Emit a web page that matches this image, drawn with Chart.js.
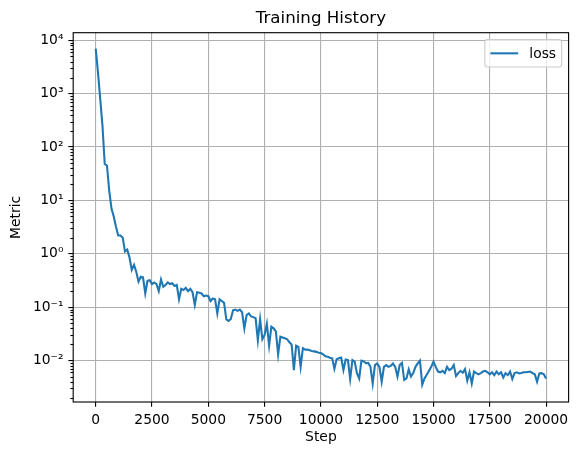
<!DOCTYPE html>
<html>
<head>
<meta charset="utf-8">
<script src="https://cdn.jsdelivr.net/npm/chart.js@4/dist/chart.umd.min.js"></script>
<style>
  html, body { margin: 0; padding: 0; background: #fff; }
  canvas { display: block; }
</style>
</head>
<body>
<canvas id="chart" width="578" height="455"></canvas>
<script>
// training steps (every 100)
const steps = [
  0, 100, 200, 300, 400, 500, 600, 700, 800, 900,
  1000, 1100, 1200, 1300, 1400, 1500, 1600, 1700, 1800, 1900,
  2000, 2100, 2200, 2300, 2400, 2500, 2600, 2700, 2800, 2900,
  3000, 3100, 3200, 3300, 3400, 3500, 3600, 3700, 3800, 3900,
  4000, 4100, 4200, 4300, 4400, 4500, 4600, 4700, 4800, 4900,
  5000, 5100, 5200, 5300, 5400, 5500, 5600, 5700, 5800, 5900,
  6000, 6100, 6200, 6300, 6400, 6500, 6600, 6700, 6800, 6900,
  7000, 7100, 7200, 7300, 7400, 7500, 7600, 7700, 7800, 7900,
  8000, 8100, 8200, 8300, 8400, 8500, 8600, 8700, 8800, 8900,
  9000, 9100, 9200, 9300, 9400, 9500, 9600, 9700, 9800, 9900,
  10000, 10100, 10200, 10300, 10400, 10500, 10600, 10700, 10800, 10900,
  11000, 11100, 11200, 11300, 11400, 11500, 11600, 11700, 11800, 11900,
  12000, 12100, 12200, 12300, 12400, 12500, 12600, 12700, 12800, 12900,
  13000, 13100, 13200, 13300, 13400, 13500, 13600, 13700, 13800, 13900,
  14000, 14100, 14200, 14300, 14400, 14500, 14600, 14700, 14800, 14900,
  15000, 15100, 15200, 15300, 15400, 15500, 15600, 15700, 15800, 15900,
  16000, 16100, 16200, 16300, 16400, 16500, 16600, 16700, 16800, 16900,
  17000, 17100, 17200, 17300, 17400, 17500, 17600, 17700, 17800, 17900,
  18000, 18100, 18200, 18300, 18400, 18500, 18600, 18700, 18800, 18900,
  19000, 19100, 19200, 19300, 19400, 19500, 19600, 19700, 19800, 19900,
  20000
];

// loss values
const loss = [
  7000, 2500, 800, 250, 48, 45, 15, 7, 5, 3.2,
  2.2, 2.2, 2.0, 1.1, 1.2, 0.85, 0.5, 0.62, 0.46, 0.3,
  0.37, 0.36, 0.18, 0.31, 0.32, 0.27, 0.29, 0.27, 0.2, 0.33,
  0.24, 0.26, 0.29, 0.27, 0.28, 0.25, 0.26, 0.14, 0.22, 0.21,
  0.23, 0.2, 0.22, 0.19, 0.11, 0.19, 0.185, 0.18, 0.16, 0.165,
  0.16, 0.13, 0.145, 0.14, 0.076, 0.14, 0.13, 0.12, 0.059, 0.055,
  0.06, 0.087, 0.09, 0.085, 0.09, 0.08, 0.04, 0.071, 0.076, 0.067,
  0.065, 0.062, 0.024, 0.059, 0.025, 0.03, 0.049, 0.019, 0.043, 0.04,
  0.035, 0.013, 0.028, 0.027, 0.026, 0.025, 0.022, 0.02, 0.0066, 0.019,
  0.018, 0.0076, 0.017, 0.016, 0.016, 0.0155, 0.015, 0.0148, 0.0145, 0.014,
  0.0138, 0.013, 0.012, 0.0118, 0.0113, 0.011, 0.007, 0.0105, 0.011, 0.0113,
  0.0066, 0.0104, 0.0102, 0.0045, 0.0102, 0.0095, 0.0058, 0.0046, 0.0099, 0.0096,
  0.0089, 0.009, 0.0076, 0.0037, 0.0082, 0.0088, 0.0076, 0.004, 0.0076, 0.0082,
  0.0076, 0.0079, 0.0088, 0.0076, 0.005, 0.0082, 0.009, 0.0043, 0.0046, 0.0068,
  0.005, 0.0058, 0.0076, 0.0088, 0.0099, 0.0035, 0.0046, 0.0054, 0.0064, 0.0076,
  0.0095, 0.0076, 0.0062, 0.006, 0.0064, 0.0058, 0.0076, 0.0066, 0.007, 0.0082,
  0.0051, 0.0058, 0.0064, 0.0059, 0.0069, 0.0042, 0.006, 0.0037, 0.0062, 0.0058,
  0.0055, 0.0058, 0.0062, 0.0064, 0.006, 0.0055, 0.006, 0.0053, 0.0062, 0.0055,
  0.006, 0.0048, 0.0058, 0.0053, 0.0062, 0.0045, 0.0058, 0.006, 0.0057, 0.0058,
  0.006, 0.006, 0.0061, 0.0062, 0.0058, 0.0055, 0.004, 0.0057, 0.0058, 0.0055,
  0.0046
];

const xTicks = [0, 2500, 5000, 7500, 10000, 12500, 15000, 17500, 20000];
const yDecades = [-3, -2, -1, 0, 1, 2, 3, 4];
const xRange = [-1000, 21000];
const yRange = [0.001667, 13880];

const FONT = "'DejaVu Sans', sans-serif";
const PT = 100 / 72;
const BLUE = '#1f77b4';

const sup = { '-': '\u207B', '0': '\u2070', '1': '\u00B9', '2': '\u00B2', '3': '\u00B3',
  '4': '\u2074', '5': '\u2075', '6': '\u2076', '7': '\u2077', '8': '\u2078', '9': '\u2079' };

function isDecade(v) {
  const l = Math.log10(v);
  return Math.abs(l - Math.round(l)) < 1e-9;
}

function yTickList() {
  const out = [];
  yDecades.forEach(e => {
    for (let k = 1; k <= 9; k++) {
      const v = k * Math.pow(10, e);
      if (v >= yRange[0] && v <= yRange[1]) out.push({ value: v, major: k === 1 });
    }
  });
  return out;
}

// frame, minor ticks and legend drawn like matplotlib
const mplExtras = {
  id: 'mplExtras',
  afterDatasetsDraw(chart) {
    const { ctx, chartArea: a, scales } = chart;
    ctx.save();
    // minor ticks on y
    ctx.strokeStyle = '#000';
    ctx.lineWidth = 0.8 * PT;
    scales.y.ticks.forEach(t => {
      if (isDecade(t.value)) return;
      const y = Math.round(scales.y.getPixelForValue(t.value)) + 0.5;
      ctx.beginPath();
      ctx.moveTo(a.left - 2 * PT, y);
      ctx.lineTo(a.left, y);
      ctx.stroke();
    });
    // spines
    ctx.strokeRect(a.left, a.top, a.right - a.left, a.bottom - a.top);

    // legend
    const fs = 10 * PT;
    const ds = chart.data.datasets[0];
    ctx.font = fs + 'px ' + FONT;
    const tw = ctx.measureText(ds.label).width;
    const pad = 0.4 * fs, hl = 2 * fs, htp = 0.8 * fs, bap = 0.5 * fs;
    const w = pad + hl + htp + tw + pad;
    const h = pad * 2 + fs * 1.17;
    const x0 = a.right - bap - w, y0 = a.top + bap;
    ctx.beginPath();
    ctx.roundRect(x0, y0, w, h, 0.2 * fs);
    ctx.fillStyle = 'rgba(255,255,255,0.8)';
    ctx.fill();
    ctx.strokeStyle = '#cccccc';
    ctx.lineWidth = 0.8 * PT;
    ctx.stroke();
    const cy = y0 + h / 2;
    ctx.beginPath();
    ctx.moveTo(x0 + pad, cy);
    ctx.lineTo(x0 + pad + hl, cy);
    ctx.strokeStyle = ds.borderColor;
    ctx.lineWidth = 1.5 * PT;
    ctx.stroke();
    ctx.fillStyle = '#000';
    ctx.textBaseline = 'middle';
    ctx.textAlign = 'left';
    ctx.fillText(ds.label, x0 + pad + hl + htp, cy + 1);
    ctx.restore();
  }
};

new Chart(document.getElementById('chart'), {
  type: 'line',
  data: {
    datasets: [{
      label: 'loss',
      data: steps.map((s, i) => ({ x: s, y: loss[i] })),
      borderColor: BLUE,
      borderWidth: 1.5 * PT,
      pointRadius: 0,
      tension: 0,
      fill: false
    }]
  },
  options: {
    responsive: false,
    animation: false,
    devicePixelRatio: 1,
    layout: { padding: { left: 0, right: 9.4, top: 0, bottom: 0 } },
    plugins: {
      legend: { display: false },
      tooltip: { enabled: false },
      title: {
        display: true,
        text: 'Training History',
        fullSize: false,
        color: '#000',
        font: { family: FONT, size: 12 * PT, weight: 'normal', lineHeight: 1.2 },
        padding: { top: 8.4, bottom: 4.3 }
      }
    },
    scales: {
      x: {
        type: 'linear',
        min: xRange[0],
        max: xRange[1],
        afterBuildTicks: s => { s.ticks = xTicks.map(v => ({ value: v })); },
        afterFit: s => { s.height = 53; },
        border: { display: false },
        grid: { color: '#b0b0b0', lineWidth: 0.8 * PT, tickColor: '#000', tickLength: 3.5 * PT },
        ticks: {
          autoSkip: false, maxRotation: 0, padding: 3.5 * PT, color: '#000',
          font: { family: FONT, size: 10 * PT },
          callback: v => String(v)
        },
        title: {
          display: true, text: 'Step', color: '#000',
          font: { family: FONT, size: 10 * PT, lineHeight: 1.2 },
          padding: { top: 4, bottom: 9.2 }
        }
      },
      y: {
        type: 'logarithmic',
        min: yRange[0],
        max: yRange[1],
        afterBuildTicks: s => { s.ticks = yTickList(); },
        afterFit: s => { s.width = 73.2; },
        border: { display: false },
        grid: {
          color: c => (c.tick && isDecade(c.tick.value)) ? '#b0b0b0' : 'rgba(0,0,0,0)',
          tickColor: c => (c.tick && isDecade(c.tick.value)) ? '#000' : 'rgba(0,0,0,0)',
          lineWidth: 0.8 * PT,
          tickLength: 3.5 * PT
        },
        ticks: {
          autoSkip: false, padding: 3.5 * PT, color: '#000',
          font: { family: FONT, size: 10 * PT },
          callback: v => {
            if (!isDecade(v)) return '';
            const e = String(Math.round(Math.log10(v)));
            return '10' + e.split('').map(ch => sup[ch]).join('');
          }
        },
        title: {
          display: true, text: 'Metric', color: '#000',
          font: { family: FONT, size: 10 * PT, lineHeight: 1.2 },
          padding: { top: 7.7, bottom: 4 }
        }
      }
    }
  },
  plugins: [mplExtras]
});
</script>
</body>
</html>
